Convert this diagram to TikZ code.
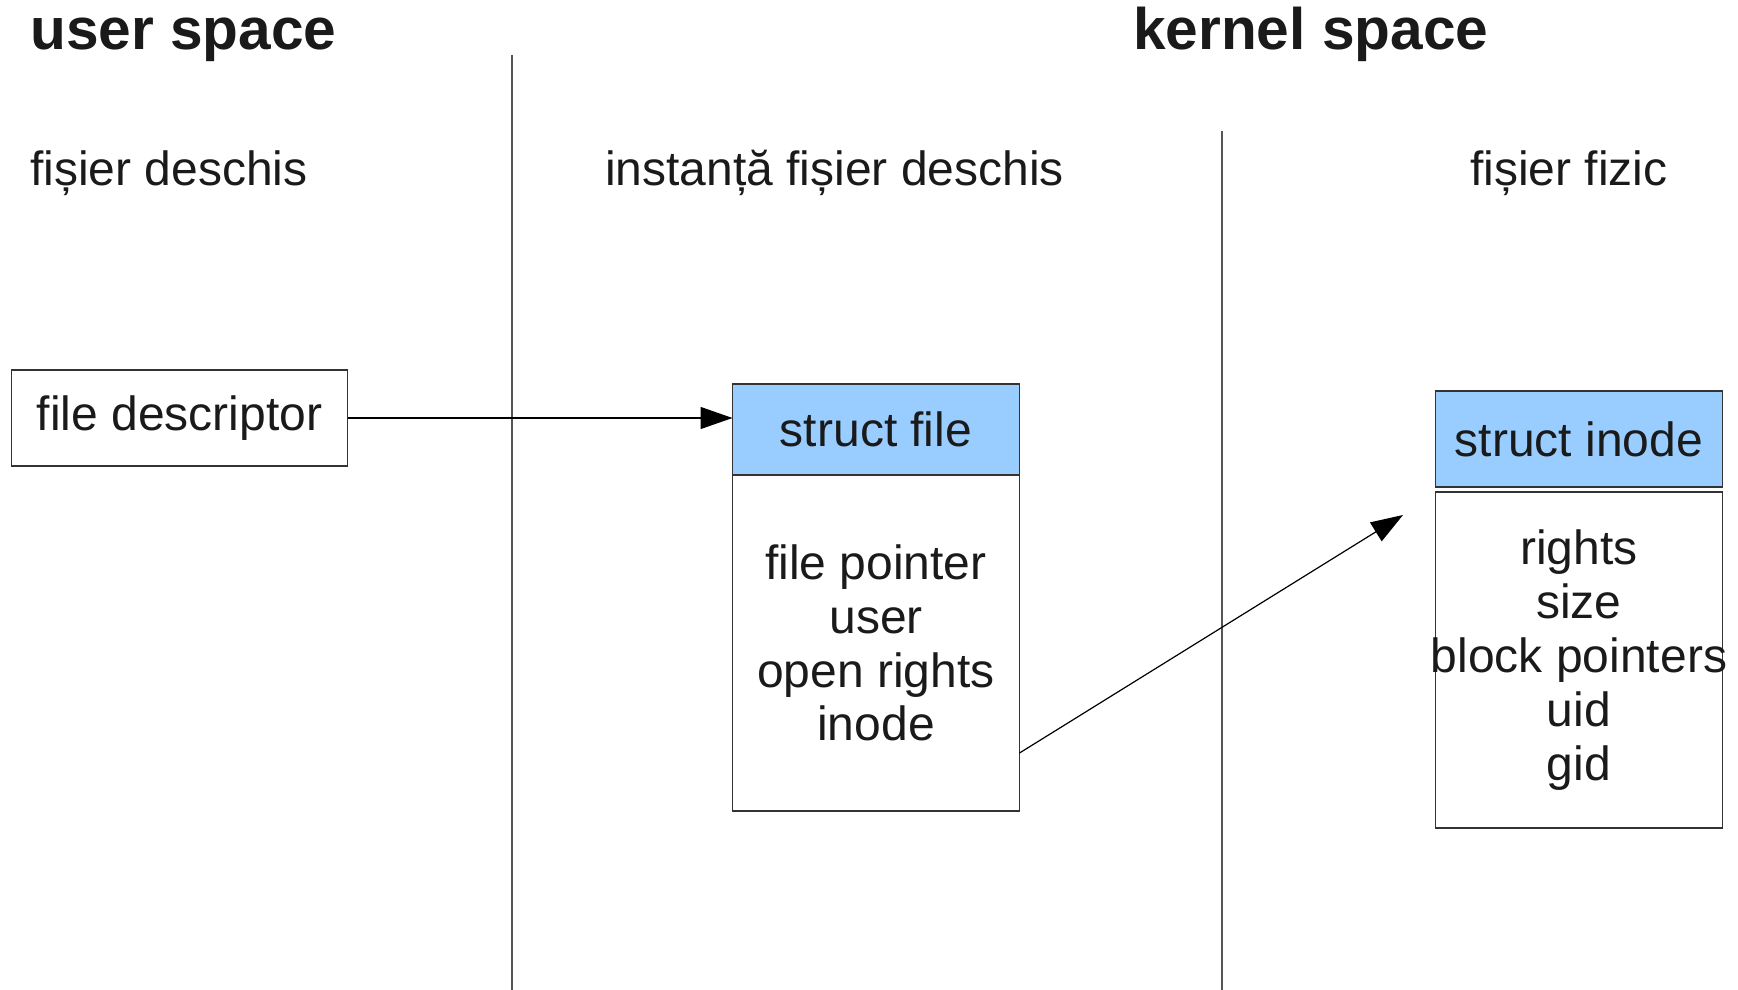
\documentclass[tikz,border=0pt]{standalone}
\usepackage{fontspec}
\setmainfont{Liberation Sans}
\usetikzlibrary{arrows.meta,calc}
\definecolor{hdr}{HTML}{99CCFF}
\definecolor{txt}{HTML}{1A1A1A}
\definecolor{edge}{HTML}{333333}
\definecolor{sep}{HTML}{555555}
\newcommand{\bodyfont}{\fontsize{48pt}{53.8pt}\selectfont}
\newcommand{\headfont}{\fontsize{58.6pt}{66pt}\selectfont\bfseries}
\begin{document}
\begin{tikzpicture}[x=1pt,y=-1pt,
  box/.style={draw=edge, line width=1.3pt, inner sep=0pt, outer sep=0pt, text=txt, font=\bodyfont, align=center, minimum width=287pt},
  hdrbox/.style={box, fill=hdr},
  title/.style={anchor=base west, inner sep=0pt, text=txt, font=\headfont},
  label/.style={anchor=base west, inner sep=0pt, text=txt, font=\bodyfont},
  sepline/.style={draw=sep, line width=1.3pt},
  arr/.style={draw=black, line width=1.2pt, -{Triangle[length=32pt,width=22pt]}}]
\useasboundingbox (0,0) rectangle (1738,990);
% separators
\draw[sepline] (512,55) -- (512,990);
\draw[sepline] (1222,131) -- (1222,990);
% titles
\node[title] (us) at (30,50) {user space};
\node[title] (ks) at (1133,50) {kernel space};
\node[label] (l1) at (30,185) {fișier deschis};
\node[label] (l2) at (605,185) {instanță fișier deschis};
\node[label] (l3) at (1470,185) {fișier fizic};
% boxes
\node[box, minimum width=336pt, minimum height=96pt] (fd) at (179.5,418) {file descriptor};
\node[hdrbox, minimum height=91pt] (sfh) at (876,429.5) {struct file};
\node[box, minimum height=336pt] (sfb) at (876,643) {file pointer\\user\\open rights\\inode};
\node[hdrbox, minimum height=96pt] (sih) at (1579,439) {struct inode};
\node[box, inner xsep=-8pt, minimum height=336pt] (sib) at (1579,660) {rights\\size\\block pointers\\uid\\gid};
% connectors
\coordinate (tip) at (1403,515);
\draw[arr] (fd.east) -- (fd.east -| sfh.west);
\draw[arr] ([yshift=-110pt]sfb.east) -- (tip);
\end{tikzpicture}
\end{document}
